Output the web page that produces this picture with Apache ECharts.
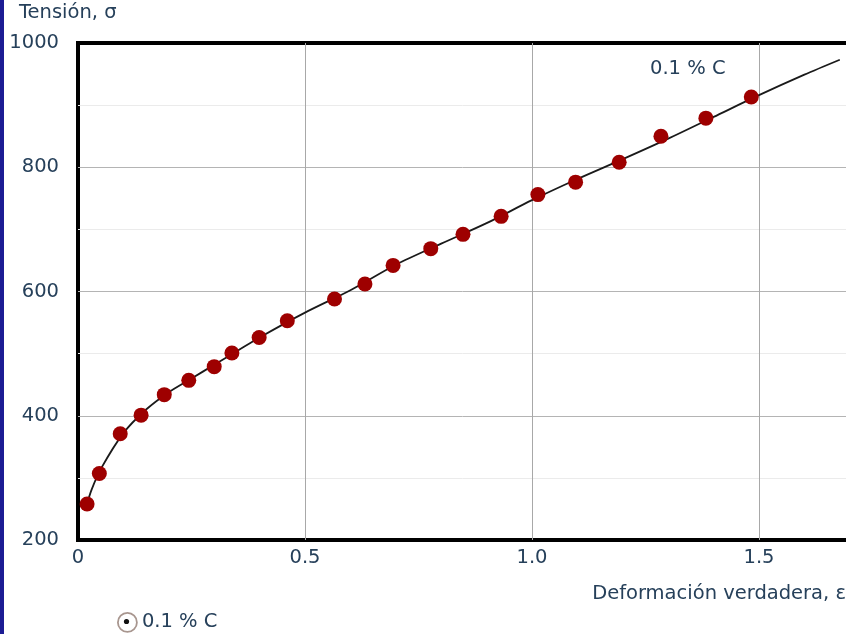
<!DOCTYPE html>
<html>
<head>
<meta charset="utf-8">
<script src="https://cdn.jsdelivr.net/npm/echarts@6/dist/echarts.min.js"></script>
<style>
  html, body { margin: 0; padding: 0; background: #fff; }
  #chart { width: 846px; height: 634px; }
</style>
</head>
<body>
<div id="chart"></div>
<script>
// puntos medidos (deformación verdadera, tensión)
var strainPts = [0.020, 0.047, 0.093, 0.139, 0.190, 0.244, 0.300, 0.339, 0.399, 0.461,
                 0.565, 0.632, 0.694, 0.777, 0.848, 0.932, 1.013, 1.096, 1.192, 1.284, 1.383, 1.483];
var stressPts = [258, 307, 371, 401, 434, 457, 479, 501, 526, 553,
                 588, 612, 642, 669, 692, 721, 756, 776, 808, 850, 879, 913];

// curva de ajuste
var strainFit = [0.019, 0.030, 0.050, 0.100, 0.150, 0.200, 0.250, 0.300, 0.350, 0.400, 0.500,
                 0.600, 0.700, 0.800, 0.900, 1.000, 1.100, 1.200, 1.300, 1.400, 1.500, 1.600, 1.678];
var stressFit = [256, 281, 314, 372, 410, 438, 460, 482, 504, 526, 566,
                 602, 643, 677, 710, 747, 781, 813, 846, 881, 916, 949, 973];

var xTicks = ['0', '0.5', '1.0', '1.5', '2.0'];
var serieName = '0.1 % C';

var txt = '#26405a';
var font = 'DejaVu Sans';
var fs = 19.5;

var chart = echarts.init(document.getElementById('chart'));
chart.setOption({
  animation: false,
  backgroundColor: '#fff',
  textStyle: { fontFamily: font },
  grid: {
    left: 78,
    top: 43,
    width: 908, // el grafico sigue mas alla del borde derecho
    height: 497,
    containLabel: false,
    outerBoundsMode: 'none',
    show: true,
    backgroundColor: '#fff',
    borderColor: '#000',
    borderWidth: 4
  },
  legend: {
    data: [serieName],
    left: 112,
    top: 607,
    icon: 'circle',
    itemWidth: 19,
    itemHeight: 19,
    itemStyle: { color: '#fff', borderColor: '#a8968f', borderWidth: 1.8 },
    textStyle: { color: txt, fontSize: fs, fontFamily: font, padding: [0, 0, 0, 0] }
  },
  xAxis: {
    type: 'value',
    min: 0,
    max: 2,
    interval: 0.5,
    axisLine: { show: false },
    axisTick: { show: false },
    axisLabel: {
      color: txt,
      fontSize: fs,
      margin: 8,
      formatter: function (v) { return xTicks[Math.round(v / 0.5)]; }
    },
    splitLine: { show: true, showMinLine: false, showMaxLine: false, lineStyle: { color: '#a8a8a8', width: 1 } }
  },
  yAxis: {
    type: 'value',
    min: 200,
    max: 1000,
    interval: 200,
    axisLine: { show: false },
    axisTick: { show: false },
    axisLabel: { color: txt, fontSize: fs, margin: 19, formatter: function (v) { return String(v); } },
    splitLine: { show: true, showMinLine: false, showMaxLine: false, lineStyle: { color: '#b4b4b4', width: 1 } },
    minorTick: { show: false, splitNumber: 2 },
    minorSplitLine: { show: true, lineStyle: { color: '#ebebeb', width: 1 } }
  },
  graphic: [
    { type: 'rect', left: 0, top: 0, shape: { width: 4, height: 634 }, style: { fill: '#1c1c94' } },
    { type: 'text', left: 19, top: 3, style: { text: 'Tensión, σ', fill: txt, fontSize: fs, fontFamily: font } },
    { type: 'text', right: 0, top: 584, style: { text: 'Deformación verdadera, ε', fill: txt, fontSize: fs, fontFamily: font } },
    { type: 'text', left: 650, top: 59, style: { text: serieName, fill: txt, fontSize: fs, fontFamily: font } },
    { type: 'circle', shape: { cx: 126.5, cy: 621.5, r: 2.6 }, style: { fill: '#111' }, z: 100 }
  ],
  series: [
    {
      name: 'ajuste',
      type: 'line',
      data: strainFit.map(function (x, i) { return [x, stressFit[i]]; }),
      showSymbol: false,
      smooth: 0.3,
      lineStyle: { color: '#1a1a1a', width: 1.8 },
      z: 2
    },
    {
      name: serieName,
      type: 'scatter',
      data: strainPts.map(function (x, i) { return [x, stressPts[i]]; }),
      symbolSize: 15,
      itemStyle: { color: '#9e0000', opacity: 1 },
      z: 3
    }
  ]
});
</script>
</body>
</html>
